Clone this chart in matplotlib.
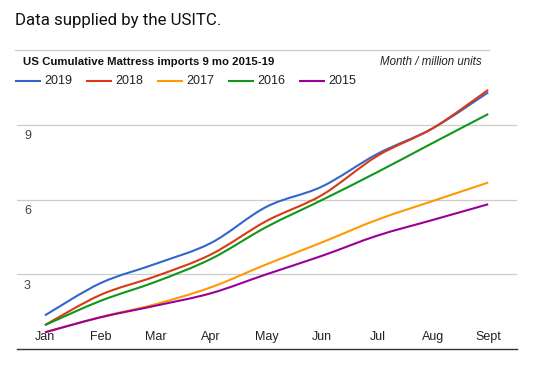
import matplotlib
matplotlib.use("Agg")
import matplotlib.pyplot as plt
from matplotlib.lines import Line2D
from matplotlib.path import Path
from matplotlib.patches import PathPatch

months = ["Jan", "Feb", "Mar", "Apr", "May", "Jun", "Jul", "Aug", "Sept"]
s2019 = [1.35, 2.64, 3.42, 4.26, 5.71, 6.52, 7.83, 8.86, 10.30]
s2018 = [0.96, 2.17, 2.92, 3.80, 5.14, 6.18, 7.75, 8.86, 10.40]
s2017 = [0.67, 1.28, 1.80, 2.48, 3.40, 4.28, 5.19, 5.94, 6.68]
s2016 = [0.96, 1.93, 2.70, 3.62, 4.90, 5.98, 7.10, 8.27, 9.43]
s2015 = [0.67, 1.27, 1.74, 2.24, 3.00, 3.74, 4.55, 5.18, 5.81]
series_names = ["2019", "2018", "2017", "2016", "2015"]
series = [s2019, s2018, s2017, s2016, s2015]
colors = ["#3366cc", "#dc3912", "#ff9900", "#109618", "#990099"]
yticks = [3, 6, 9]


def smooth_path(xs, ys, k=1 / 6):
    verts = [(xs[0], ys[0])]
    codes = [Path.MOVETO]
    n = len(xs)
    for i in range(n - 1):
        x0, y0 = xs[max(i - 1, 0)], ys[max(i - 1, 0)]
        x1, y1 = xs[i], ys[i]
        x2, y2 = xs[i + 1], ys[i + 1]
        x3, y3 = xs[min(i + 2, n - 1)], ys[min(i + 2, n - 1)]
        c1 = (x1 + (x2 - x0) * k, y1 + (y2 - y0) * k)
        c2 = (x2 - (x3 - x1) * k, y2 - (y3 - y1) * k)
        verts += [c1, c2, (x2, y2)]
        codes += [Path.CURVE4] * 3
    return Path(verts, codes)


W, H = 553, 379
fig = plt.figure(figsize=(W / 100, H / 100), dpi=100)
fig.patch.set_facecolor("white")

ax = fig.add_axes([17 / W, (H - 349) / H, 500 / W, 299 / H])
ax.set_xlim(-0.505, 8.52)
ax.set_ylim(0, 12)
for s in ["top", "right", "left"]:
    ax.spines[s].set_visible(False)
ax.spines["bottom"].set_color("#333333")
ax.spines["bottom"].set_linewidth(1.0)

for v in yticks:
    ax.axhline(v, color="#cccccc", lw=0.9, zorder=0)
    ax.text(-0.38, v - 0.22, str(v), ha="left", va="top", fontsize=9,
            color="#444444", family="Liberation Sans")

x = list(range(len(months)))
for name, vals, c in zip(series_names, series, colors):
    ax.add_patch(PathPatch(smooth_path(x, vals), facecolor="none", edgecolor=c,
                           lw=1.5, capstyle="butt"))

ax.set_xticks([])
ax.set_yticks([])
for i, m in enumerate(months):
    ax.text(i, 0.48, m, ha="center", va="center", fontsize=9,
            color="#222222", family="Liberation Sans")

# Header texts
fig.text(15 / W, 1 - 20 / H, "Data supplied by the USITC.", ha="left", va="center",
         fontsize=12.2, family="Roboto", color="#111111")
fig.add_artist(Line2D([15 / W, 489 / W], [1 - 50 / H, 1 - 50 / H], color="#cccccc", lw=0.9))
fig.text(23 / W, 1 - 62 / H, "US Cumulative Mattress imports 9 mo 2015-19", ha="left",
         va="center", fontsize=8.2, fontweight="bold", family="Liberation Sans", color="#111111")
fig.text(482 / W, 1 - 62 / H, "Month / million units", ha="right", va="center",
         fontsize=8.3, style="italic", family="Liberation Sans", color="#222222")

# Legend
for i, (name, c) in enumerate(zip(series_names, colors)):
    x0 = 16 + 71 * i
    fig.add_artist(Line2D([x0 / W, (x0 + 24) / W], [1 - 81 / H, 1 - 81 / H], color=c, lw=1.5))
    fig.text((x0 + 28) / W, 1 - 81 / H, name, ha="left", va="center", fontsize=9,
             family="Liberation Sans", color="#222222")

fig.savefig("out.png", dpi=100, facecolor="white")
